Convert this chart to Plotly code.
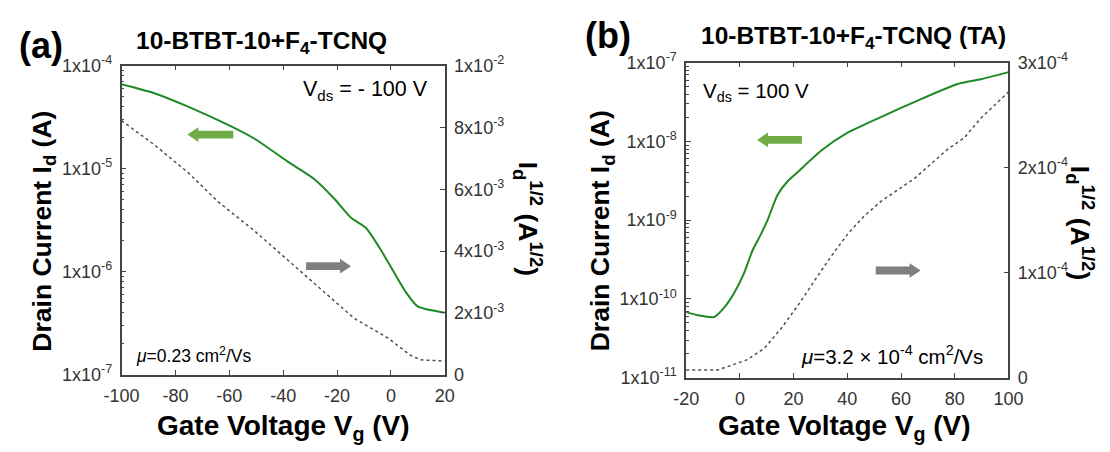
import plotly.graph_objects as go

W, H = 1110, 452
# The returned picture is slightly reduced about its centre; positions are read
# from the reference and mapped onto the page so that they land in place.
S = 0.9726


def px(x):
    return (W / 2 + (x - W / 2) / S) / W


def py(y):
    return 1 - (H / 2 + (y - H / 2) / S) / H


# ---------------- data ----------------
# (a) 10-BTBT-10 + F4-TCNQ, Vds = -100 V
a_vg_id = [-100, -87.8, -75.3, -59.3, -50.6, -38.3, -28.4, -21.0, -14.8, -9.3, -3.7, 1.2, 5.6, 9.9, 20]
a_id = [6.6e-5, 5.4e-5, 4.0e-5, 2.57e-5, 1.95e-5, 1.17e-5, 7.9e-6, 5.1e-6, 3.33e-6, 2.67e-6,
        1.62e-6, 9.8e-7, 6.3e-7, 4.6e-7, 4.0e-7]
a_vg_sq = [-100, -87.7, -75.3, -64.2, -50.6, -38.3, -26.0, -13.6, -7.4, -1.2, 7.4, 11.1, 20]
a_sqrt = [8.22e-3, 7.43e-3, 6.54e-3, 5.60e-3, 4.65e-3, 3.71e-3, 2.77e-3, 1.82e-3, 1.51e-3,
          1.19e-3, 0.62e-3, 0.48e-3, 0.44e-3]

# (b) 10-BTBT-10 + F4-TCNQ (TA), Vds = 100 V
b_vg_id = [-20, -15.7, -9.5, -5.8, -2.1, 1.6, 4.7, 7.8, 10.3, 14.0, 17.7, 21.5, 30.2, 40.1, 52.5,
           64.9, 81.0, 89.7, 100]
b_id = [6.8e-11, 6.2e-11, 5.9e-11, 7.8e-11, 1.2e-10, 2.14e-10, 4.12e-10, 6.6e-10, 1.0e-9, 2.09e-9,
        3.1e-9, 4.07e-9, 7.6e-9, 1.29e-8, 2.04e-8, 3.16e-8, 5.37e-8, 6.17e-8, 7.59e-8]
b_vg_sq = [-20, -8.3, 2.8, 9.1, 15.3, 21.5, 27.6, 33.8, 40.1, 46.3, 52.5, 64.9, 77.3, 83.5, 89.7, 100]
b_sqrt = [0.072e-4, 0.072e-4, 0.171e-4, 0.28e-4, 0.466e-4, 0.683e-4, 0.916e-4, 1.149e-4, 1.367e-4,
          1.54e-4, 1.678e-4, 1.895e-4, 2.174e-4, 2.283e-4, 2.47e-4, 2.72e-4]

# tick labels
a_x_ticks = [-100, -80, -60, -40, -20, 0, 20]
a_x_text = ["-100", "-80", "-60", "-40", "-20", "0", "20"]
a_log_ticks = [1e-7, 1e-6, 1e-5, 1e-4]
a_log_text = ["1x10<sup>-7</sup>", "1x10<sup>-6</sup>", "1x10<sup>-5</sup>", "1x10<sup>-4</sup>"]
a_lin_ticks = [0, 2e-3, 4e-3, 6e-3, 8e-3, 1e-2]
a_lin_text = ["0", "2x10<sup>-3</sup>", "4x10<sup>-3</sup>", "6x10<sup>-3</sup>", "8x10<sup>-3</sup>", "1x10<sup>-2</sup>"]

b_x_ticks = [-20, 0, 20, 40, 60, 80, 100]
b_x_text = ["-20", "0", "20", "40", "60", "80", "100"]
b_log_ticks = [1e-11, 1e-10, 1e-9, 1e-8, 1e-7]
b_log_text = ["1x10<sup>-11</sup>", "1x10<sup>-10</sup>", "1x10<sup>-9</sup>", "1x10<sup>-8</sup>", "1x10<sup>-7</sup>"]
b_lin_ticks = [0, 1e-4, 2e-4, 3e-4]
b_lin_text = ["0", "1x10<sup>-4</sup>", "2x10<sup>-4</sup>", "3x10<sup>-4</sup>"]


def minor_log(lo_exp, hi_exp):
    vals = []
    for e in range(lo_exp, hi_exp):
        for m in range(2, 10):
            vals.append(m * 10 ** e)
    return vals


GREEN = "#1f8a23"
GRAY = "#505050"
ARROW_GREEN = "#6fac46"
ARROW_GRAY = "#7f7f7f"
AXC = "#444444"
TXT = "#333333"
FONT = "Arial, Liberation Sans, sans-serif"

fig = go.Figure()
fig.add_trace(go.Scatter(x=a_vg_id, y=a_id, xaxis="x", yaxis="y", mode="lines",
                         line=dict(color=GREEN, width=2, shape="spline", smoothing=0.6), showlegend=False))
fig.add_trace(go.Scatter(x=a_vg_sq, y=a_sqrt, xaxis="x", yaxis="y2", mode="lines",
                         line=dict(color=GRAY, width=1.5, dash="dot"), showlegend=False))
fig.add_trace(go.Scatter(x=b_vg_id, y=b_id, xaxis="x2", yaxis="y3", mode="lines",
                         line=dict(color=GREEN, width=2, shape="spline", smoothing=0.6), showlegend=False))
fig.add_trace(go.Scatter(x=b_vg_sq, y=b_sqrt, xaxis="x2", yaxis="y4", mode="lines",
                         line=dict(color=GRAY, width=1.5, dash="dot"), showlegend=False))

common = dict(showgrid=False, zeroline=False, showline=True, linecolor=AXC, linewidth=1.5,
              ticks="inside", ticklen=5, tickwidth=1.2, tickcolor=AXC,
              tickfont=dict(size=18, color=TXT, family=FONT))

fig.update_layout(
    width=W, height=H, autosize=False,
    margin=dict(l=0, r=0, t=0, b=0),
    paper_bgcolor="white", plot_bgcolor="white",
    font=dict(family=FONT, color="#000"),
    xaxis=dict(domain=[px(119), px(443)], anchor="y", range=[-100, 20],
               tickmode="array", tickvals=a_x_ticks, ticktext=a_x_text, mirror="ticks",
               ticklabelstandoff=4, **common),
    yaxis=dict(domain=[py(377), py(61)], anchor="x", type="log", range=[-7, -4],
               tickmode="array", tickvals=a_log_ticks, ticktext=a_log_text,
               minor=dict(ticks="inside", ticklen=3, tickcolor=AXC, tickvals=minor_log(-7, -4)),
               ticklabelstandoff=4, **common),
    yaxis2=dict(overlaying="y", side="right", anchor="x", range=[0, 1e-2],
                tickmode="array", tickvals=a_lin_ticks, ticktext=a_lin_text,
                ticklabelstandoff=4, **common),
    xaxis2=dict(domain=[px(685), px(1008)], anchor="y3", range=[-20, 100],
                tickmode="array", tickvals=b_x_ticks, ticktext=b_x_text, mirror="ticks",
                ticklabelstandoff=4, **common),
    yaxis3=dict(domain=[py(380), py(58)], anchor="x2", type="log", range=[-11, -7],
                tickmode="array", tickvals=b_log_ticks, ticktext=b_log_text,
                minor=dict(ticks="inside", ticklen=3, tickcolor=AXC, tickvals=minor_log(-11, -7)),
                ticklabelstandoff=4, **common),
    yaxis4=dict(overlaying="y3", side="right", anchor="x2", range=[0, 3e-4],
                tickmode="array", tickvals=b_lin_ticks, ticktext=b_lin_text,
                ticklabelstandoff=4, **common),
)


def ann(text, x, y, size, angle=0, xanchor="center", bold=False):
    if bold:
        text = "<b>" + text + "</b>"
    fig.add_annotation(text=text, x=px(x), y=py(y), xref="paper", yref="paper",
                       xanchor=xanchor, yanchor="middle", showarrow=False, textangle=angle,
                       font=dict(size=size, color="#000", family=FONT))


# panel labels and titles
ann("(a)", 38, 40, 36, bold=True)
ann("10-BTBT-10+F<sub>4</sub>-TCNQ", 259, 37, 24.5, bold=True)
ann("(b)", 607, 30, 36, bold=True)
ann("10-BTBT-10+F<sub>4</sub>-TCNQ (TA)", 853, 32, 24.5, bold=True)

# axis titles
ann("Drain Current I<sub>d</sub> (A)", 41, 230, 26.5, angle=-90, bold=True)
ann("I<sub>d</sub><sup>1/2</sup> (A<sup>1/2</sup>)", 526, 217, 26.5, angle=90, bold=True)
ann("Gate Voltage V<sub>g</sub> (V)", 281, 431, 28, bold=True)
ann("Drain Current I<sub>d</sub> (A)", 601, 230, 26.5, angle=-90, bold=True)
ann("I<sub>d</sub><sup>1/2</sup> (A<sup>1/2</sup>)", 1080, 222, 26.5, angle=90, bold=True)
ann("Gate Voltage V<sub>g</sub> (V)", 844, 431, 28, bold=True)

# in-plot texts
ann("V<sub>ds</sub> = - 100 V", 364, 86, 21.5)
ann("<i>μ</i>=0.23 cm<sup>2</sup>/Vs", 191, 357, 17.5)
ann("V<sub>ds</sub> = 100 V", 755, 88, 20.5)
ann("<i>μ</i>=3.2 × 10<sup>-4</sup> cm<sup>2</sup>/Vs", 891, 357, 20.5)


def block_arrow(tail, tip, yc, body, head, head_len, color):
    d = 1 if tip > tail else -1
    base = tip - d * head_len
    pts = [(tip, yc), (base, yc - head / 2), (base, yc - body / 2), (tail, yc - body / 2),
           (tail, yc + body / 2), (base, yc + body / 2), (base, yc + head / 2)]
    path = "M " + " L ".join(f"{px(x):.5f},{py(y):.5f}" for x, y in pts) + " Z"
    fig.add_shape(type="path", path=path, xref="paper", yref="paper",
                  fillcolor=color, line=dict(width=0), layer="above")


block_arrow(231, 185, 131.5, 8, 15, 11, ARROW_GREEN)
block_arrow(304, 349, 266, 8, 15, 11, ARROW_GRAY)
block_arrow(801, 756, 137, 8, 15, 11, ARROW_GREEN)
block_arrow(875, 920, 270.5, 8, 15, 11, ARROW_GRAY)

fig.write_html("out.html", include_plotlyjs=True, config={"displayModeBar": False},
               post_script="document.body.style.margin='0';document.body.style.overflow='hidden';")
